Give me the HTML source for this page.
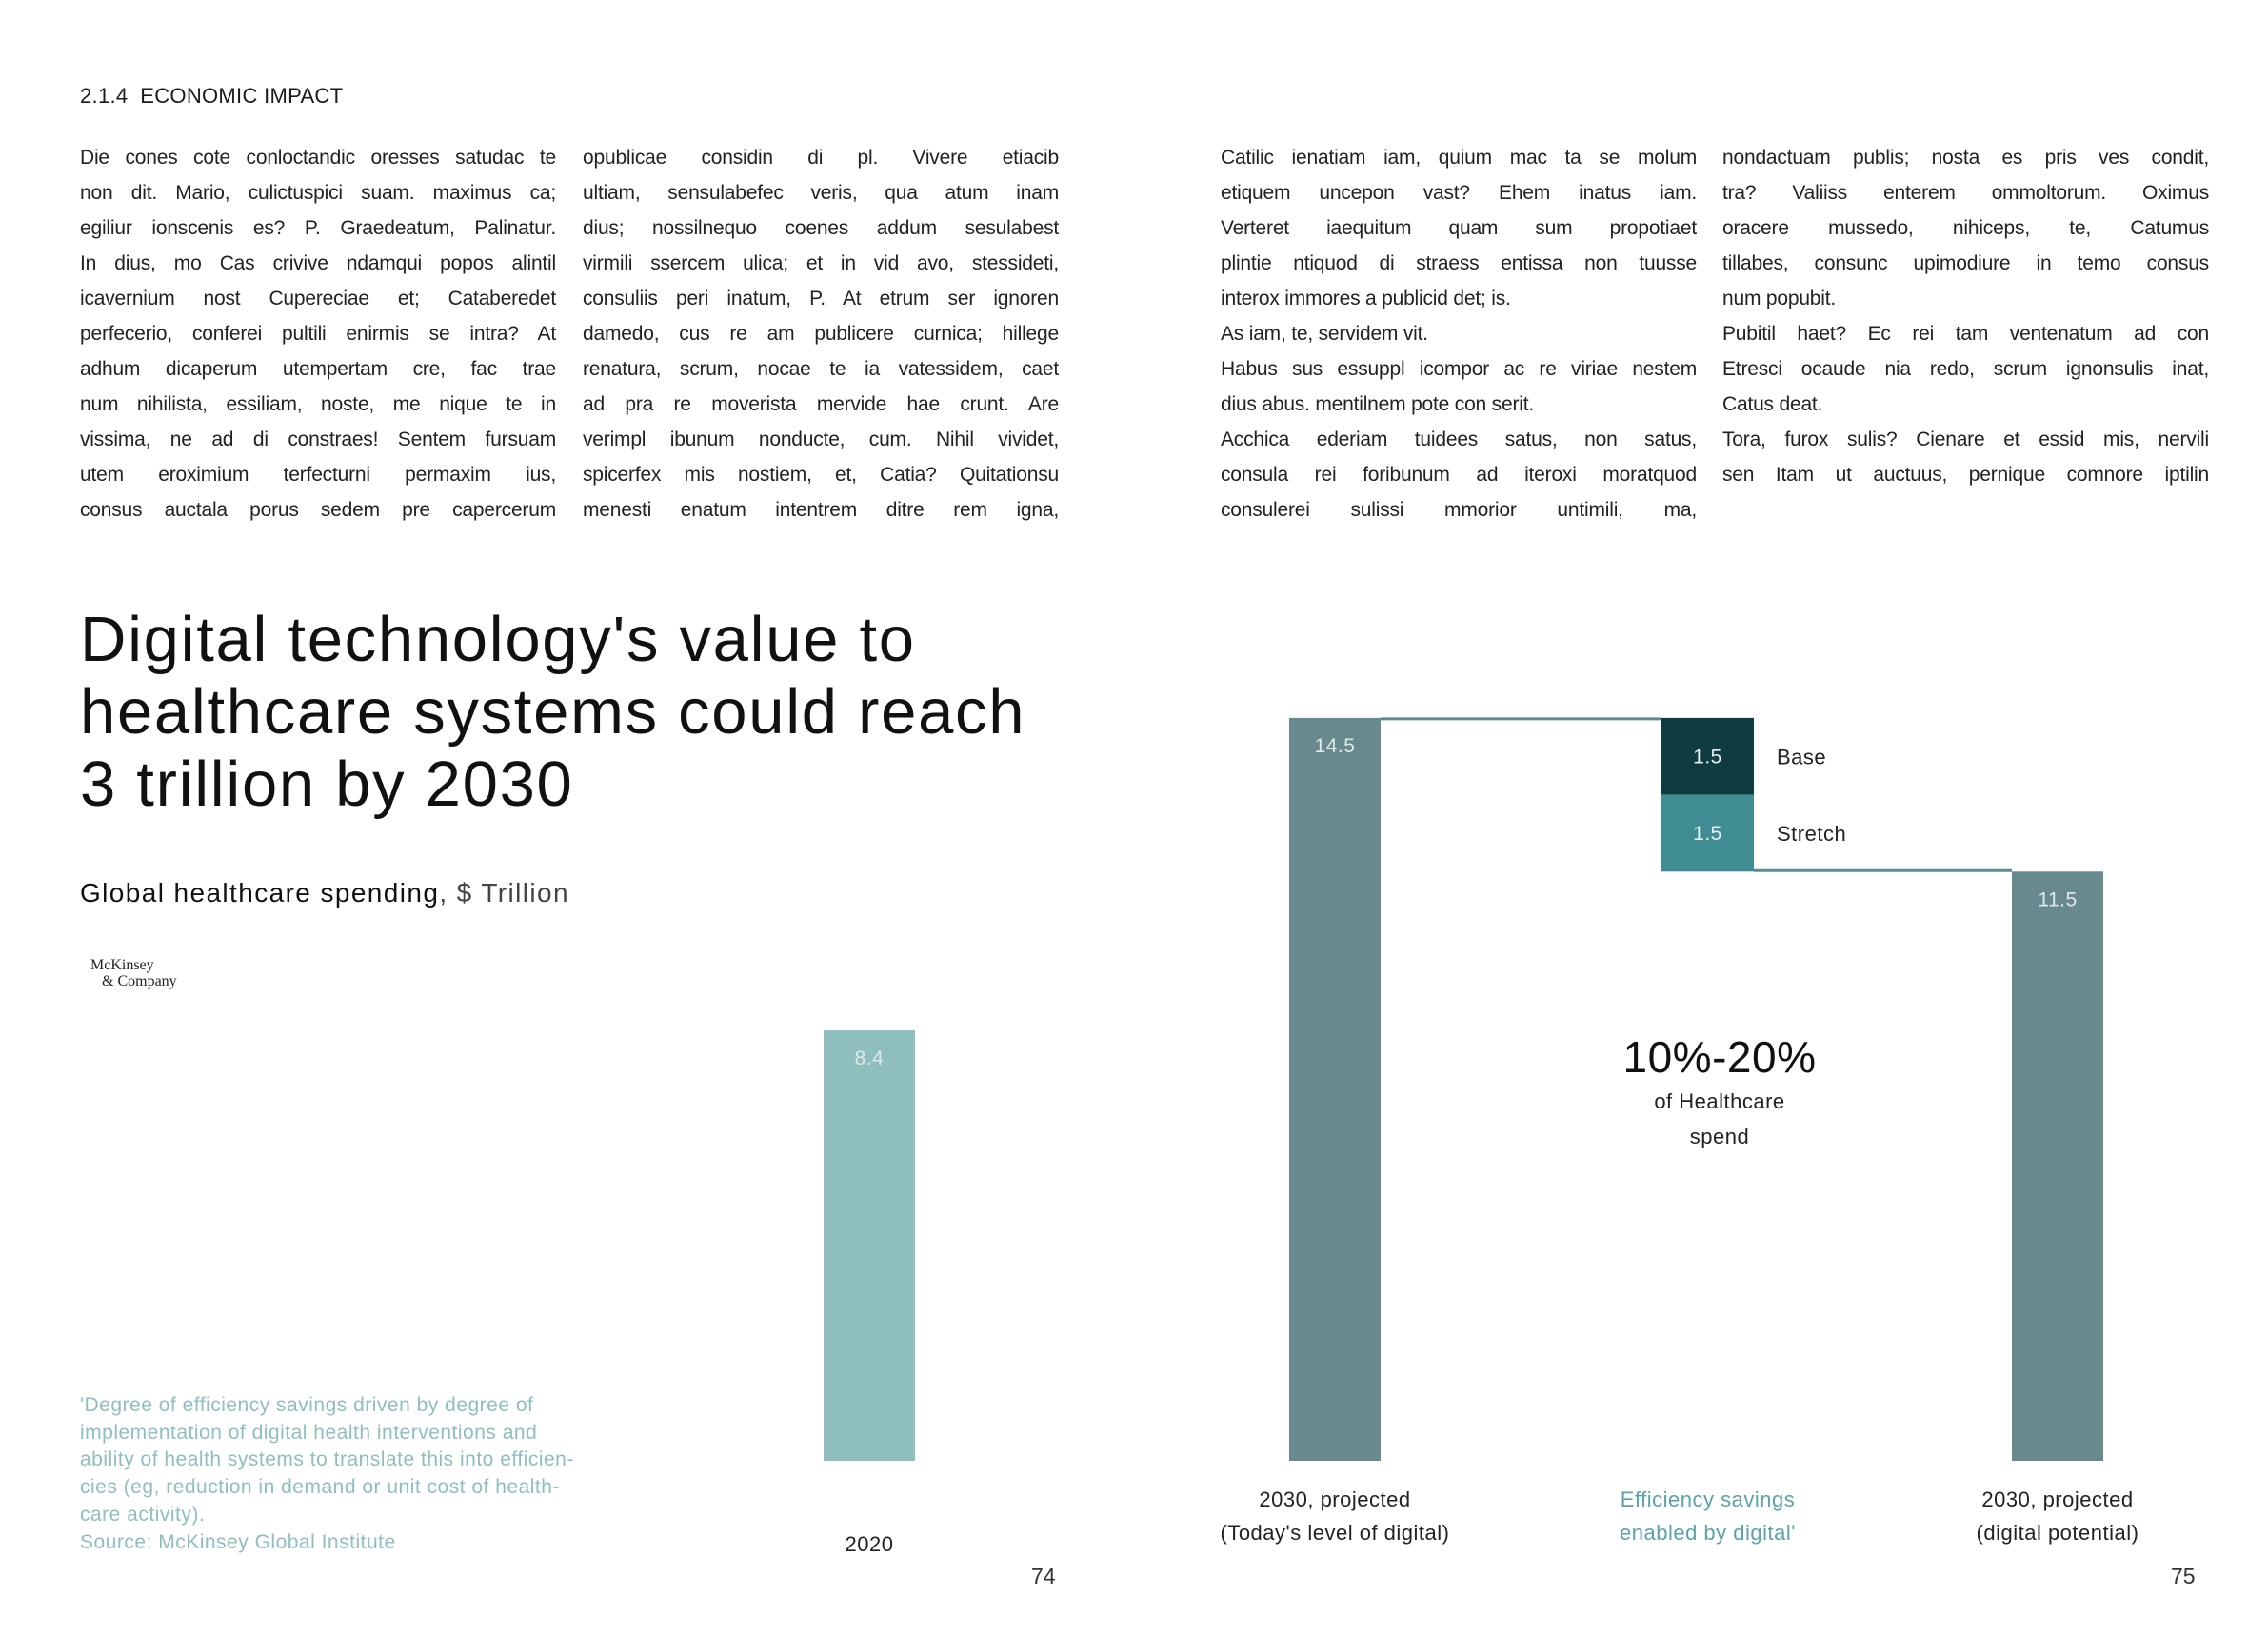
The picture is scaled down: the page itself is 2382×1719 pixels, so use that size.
<!DOCTYPE html>
<html><head><meta charset="utf-8"><style>
body{margin:0;background:#fff;}
#page{position:relative;width:2382px;height:1719px;overflow:hidden;font-family:"Liberation Sans",sans-serif;color:#1a1a1a;}
.abs{position:absolute;}
.col{position:absolute;top:147px;width:500px;font-size:21px;line-height:37px;color:#222;font-weight:300;letter-spacing:-0.2px;}
.col div{text-align:justify;text-align-last:justify;white-space:nowrap;}
.col div.l{text-align-last:left;}
.col div.j{white-space:normal;}
</style></head><body>
<div id="page">
<div class="abs" style="left:84px;top:88px;font-size:22px;letter-spacing:0.3px;">2.1.4&nbsp; ECONOMIC IMPACT</div>

<div class="col" style="left:84px">
<div class="j">Die cones cote conloctandic oresses satudac te</div><div class="j">non dit. Mario, culictuspici suam. maximus ca;</div><div class="j">egiliur ionscenis es? P. Graedeatum, Palinatur.</div><div class="j">In dius, mo Cas crivive ndamqui popos alintil</div><div class="j">icavernium nost Cupereciae et; Cataberedet</div><div class="j">perfecerio, conferei pultili enirmis se intra? At</div><div class="j">adhum dicaperum utempertam cre, fac trae</div><div class="j">num nihilista, essiliam, noste, me nique te in</div><div class="j">vissima, ne ad di constraes! Sentem fursuam</div><div class="j">utem eroximium terfecturni permaxim ius,</div><div class="j">consus auctala porus sedem pre capercerum</div>
</div>
<div class="col" style="left:612px">
<div class="j">opublicae considin di pl. Vivere etiacib</div><div class="j">ultiam, sensulabefec veris, qua atum inam</div><div class="j">dius; nossilnequo coenes addum sesulabest</div><div class="j">virmili ssercem ulica; et in vid avo, stessideti,</div><div class="j">consuliis peri inatum, P. At etrum ser ignoren</div><div class="j">damedo, cus re am publicere curnica; hillege</div><div class="j">renatura, scrum, nocae te ia vatessidem, caet</div><div class="j">ad pra re moverista mervide hae crunt. Are</div><div class="j">verimpl ibunum nonducte, cum. Nihil vividet,</div><div class="j">spicerfex mis nostiem, et, Catia? Quitationsu</div><div class="j">menesti enatum intentrem ditre rem igna,</div>
</div>
<div class="col" style="left:1282px">
<div class="j">Catilic ienatiam iam, quium mac ta se molum</div><div class="j">etiquem uncepon vast? Ehem inatus iam.</div><div class="j">Verteret iaequitum quam sum propotiaet</div><div class="j">plintie ntiquod di straess entissa non tuusse</div><div class="l">interox immores a publicid det; is.</div><div class="l">As iam, te, servidem vit.</div><div class="j">Habus sus essuppl icompor ac re viriae nestem</div><div class="l">dius abus. mentilnem pote con serit.</div><div class="j">Acchica ederiam tuidees satus, non satus,</div><div class="j">consula rei foribunum ad iteroxi moratquod</div><div class="j">consulerei sulissi mmorior untimili, ma,</div>
</div>
<div class="col" style="left:1809px;width:511px">
<div class="j">nondactuam publis; nosta es pris ves condit,</div><div class="j">tra? Valiiss enterem ommoltorum. Oximus</div><div class="j">oracere mussedo, nihiceps, te, Catumus</div><div class="j">tillabes, consunc upimodiure in temo consus</div><div class="l">num popubit.</div><div class="j">Pubitil haet? Ec rei tam ventenatum ad con</div><div class="j">Etresci ocaude nia redo, scrum ignonsulis inat,</div><div class="l">Catus deat.</div><div class="j">Tora, furox sulis? Cienare et essid mis, nervili</div><div class="j">sen Itam ut auctuus, pernique comnore iptilin</div>
</div>

<div class="abs" style="left:84px;top:634px;font-size:67px;line-height:76px;letter-spacing:1.7px;color:#111;white-space:nowrap;">Digital technology's value to<br>healthcare systems could reach<br>3 trillion by 2030</div>
<div class="abs" style="left:84px;top:922px;font-size:28px;letter-spacing:1.4px;color:#111;white-space:nowrap;">Global healthcare spending<span style="font-weight:300;color:#444">, $ Trillion</span></div>
<div class="abs" style="left:95px;top:1005px;font-family:'Liberation Serif',serif;font-size:16px;line-height:17px;color:#222;">McKinsey<br>&nbsp;&nbsp;&nbsp;&amp; Company</div>
<div class="abs" style="left:84px;top:1462px;font-size:21px;line-height:28.7px;letter-spacing:0.5px;color:#8ebfbe;white-space:nowrap;">'Degree of efficiency savings driven by degree of<br>implementation of digital health interventions and<br>ability of health systems to translate this into efficien-<br>cies (eg, reduction in demand or unit cost of health-<br>care activity).<br>Source: McKinsey Global Institute</div>
<div class="abs" style="left:1083px;top:1642px;font-size:23px;color:#333;">74</div>
<div class="abs" style="left:2280px;top:1642px;font-size:23px;color:#333;">75</div>

<svg id="chart" class="abs" style="left:0;top:0" width="2382" height="1719"></svg>
</div>
<script>
const categories = ["2020", "2030, projected", "Efficiency savings", "2030, projected"];
const subLabels = ["", "(Today's level of digital)", "enabled by digital'", "(digital potential)"];
const totals = [8.4, 14.5, null, 11.5];
const savingsSegments = ["Base", "Stretch"];
const savingsValues = [1.5, 1.5];

const svg = document.getElementById('chart');
const NS = 'http://www.w3.org/2000/svg';
const baseY = 1534, pxPerUnit = 53.8;
const y = v => baseY - v * pxPerUnit;
const barX = [865, 1354, 1745, 2113];
const barW = [96, 96, 97, 96];
const barColors = ['#8fbfbc', '#688a8f', null, '#688a8f'];
const segColors = ['#0e3c40', '#3f8c93'];

function el(tag, attrs, text) {
  const e = document.createElementNS(NS, tag);
  for (const k in attrs) e.setAttribute(k, attrs[k]);
  if (text !== undefined) e.textContent = text;
  svg.appendChild(e);
  return e;
}
function txt(x, yy, s, size, fill, anchor) {
  return el('text', {x: x, y: yy, 'font-size': size, fill: fill, 'text-anchor': anchor || 'middle', 'font-family': 'Liberation Sans, sans-serif', 'letter-spacing': '0.5'}, s);
}

totals.forEach((v, i) => {
  if (v === null) return;
  const r = el('rect', {x: barX[i], y: y(v), width: barW[i], height: y(0) - y(v), fill: barColors[i]});
  
  
  const t = txt(barX[i] + barW[i] / 2, y(v) + 36, v.toFixed(1), 21, '#dfe9e9');
  
  
});

let cur = totals[1];
savingsValues.forEach((v, j) => {
  const r = el('rect', {x: barX[2], y: y(cur), width: barW[2], height: y(cur - v) - y(cur), fill: segColors[j]});
  
  
  const mid = (y(cur) + y(cur - v)) / 2;
  const t = txt(barX[2] + barW[2] / 2, mid + 7, v.toFixed(1), 21, '#e6eeee');
  
  
  const l = txt(1866, mid + 8, savingsSegments[j], 22, '#222', 'start');
  
  
  cur -= v;
});

const c1 = el('line', {x1: barX[1] + barW[1], x2: barX[2], y1: y(totals[1]) + 1, y2: y(totals[1]) + 1, stroke: '#5d8a90', 'stroke-width': 3});


const c2 = el('line', {x1: barX[2] + barW[2], x2: barX[3], y1: y(cur) - 1, y2: y(cur) - 1, stroke: '#5d8a90', 'stroke-width': 3});



categories.forEach((c, i) => {
  const cx = barX[i] + barW[i] / 2;
  const color = i === 2 ? '#5aa3a8' : '#222';
  const yy = i === 0 ? 1629 : 1582;
  const t = txt(cx, yy, c, 22, color);
  
  
  if (subLabels[i]) {
    const s = txt(cx, 1617, subLabels[i], 22, color);
    
    
  }
});

const a1 = txt(1806, 1126, '10%-20%', 46, '#111');


const a2 = txt(1806, 1164, 'of Healthcare', 22, '#222');


const a3 = txt(1806, 1201, 'spend', 22, '#222');


</script>
</body></html>
